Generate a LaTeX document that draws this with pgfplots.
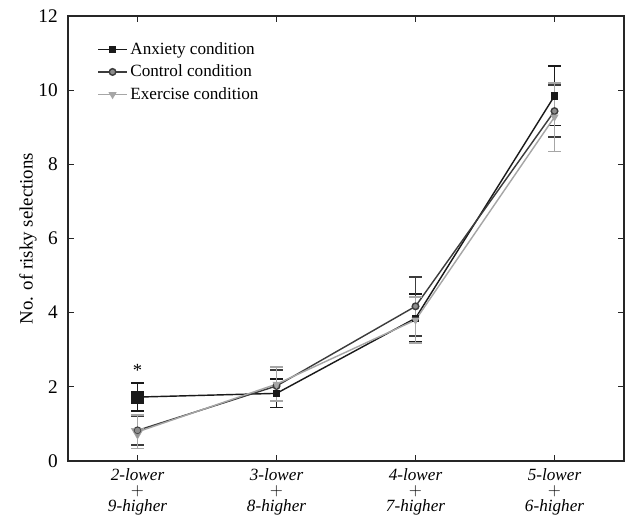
\documentclass[border=0pt]{standalone}
\usepackage{pgfplots}
\pgfplotsset{compat=1.18}
\usepackage{fontspec}
\setmainfont{Liberation Serif}
\definecolor{anx}{HTML}{1A1A1A}
\definecolor{ctl}{HTML}{3C3C3C}
\definecolor{exc}{HTML}{A6A6A6}
\begin{document}
\begin{tikzpicture}
\begin{axis}[
  scale only axis,
  width=389pt, height=311pt,
  xmin=-0.5, xmax=3.5, ymin=0, ymax=12,
  xtick={0,1,2,3},
  xticklabels={{\itshape 2-lower\\$+$\\\itshape 9-higher},{\itshape 3-lower\\$+$\\\itshape 8-higher},{\itshape 4-lower\\$+$\\\itshape 7-higher},{\itshape 5-lower\\$+$\\\itshape 6-higher}},
  xticklabel style={align=center, font=\fontsize{12}{11}\selectfont, anchor=north, inner sep=0pt, yshift=-5pt},
  ytick={0,2,...,12},
  yticklabel style={font=\fontsize{13.5}{14}\selectfont, anchor=east, inner sep=0pt, xshift=-7pt},
  /pgf/number format/assume math mode=true,
  tick align=inside,
  major tick length=4pt,
  tick style={line width=1pt, color=black!85},
  axis line style={line width=1.3pt, color=black!85},
  ylabel={No. of risky selections},
  every axis y label/.style={at={(axis description cs:0,0.5)}, xshift=-28pt, rotate=90, anchor=center,
    font=\fontsize{13.2}{14}\selectfont},
  legend style={draw=none, fill=none, at={(0.045,0.955)}, anchor=north west,
    font=\fontsize{12}{14}\selectfont, row sep=2pt},
  legend cell align=left,
  legend image code/.code={\draw[#1, mark repeat=2, mark phase=2] plot coordinates {(0cm,0cm) (0.35cm,0cm) (0.7cm,0cm)};},
  error bars/error bar style={line width=1.3pt},
  error bars/error mark options={rotate=90, mark size=4.5pt, line width=1.3pt},
]
\addplot[color=anx, line width=1pt, mark=square*, mark size=2pt, mark options={fill=anx},
  error bars/.cd, y dir=both, y explicit]
  table[x=x, y=y, y error=e] {
x y e
0 1.72 0.38
1 1.82 0.38
2 3.85 0.65
3 9.85 0.80
};
\addlegendentry{Anxiety condition}
\addplot[color=ctl, line width=1pt, mark=*, mark size=2.3pt, mark options={fill=black!45, draw=ctl},
  error bars/.cd, y dir=both, y explicit]
  table[x=x, y=y, y error=e] {
x y e
0 0.82 0.40
1 2.02 0.42
2 4.17 0.80
3 9.44 0.70
};
\addlegendentry{Control condition}
\addplot[color=exc, line width=1pt, mark=triangle*, mark size=2.3pt, mark options={rotate=180, fill=exc},
  error bars/.cd, y dir=both, y explicit]
  table[x=x, y=y, y error=e] {
x y e
0 0.78 0.45
1 2.07 0.46
2 3.80 0.62
3 9.28 0.93
};
\addlegendentry{Exercise condition}
% larger markers at the first category
\addplot[forget plot, only marks, color=exc, mark=triangle*, mark size=5pt, mark options={rotate=180, fill=exc!90!black}]
  coordinates {(0,0.78)};
\addplot[forget plot, only marks, color=ctl, mark=*, mark size=2.3pt, mark options={fill=black!45}]
  coordinates {(0,0.82)};
\addplot[forget plot, only marks, color=anx, mark=square*, mark size=4.2pt, mark options={fill=anx}]
  coordinates {(0,1.72)};
\node[font=\fontsize{13}{14}\selectfont] at (axis cs:0,2.45) {*};
\end{axis}
\pgfresetboundingbox
\path ([xshift=-47.6pt,yshift=-39.8pt]current axis.south west) rectangle ([xshift=4.2pt,yshift=11.4pt]current axis.north east);
\end{tikzpicture}
\end{document}
